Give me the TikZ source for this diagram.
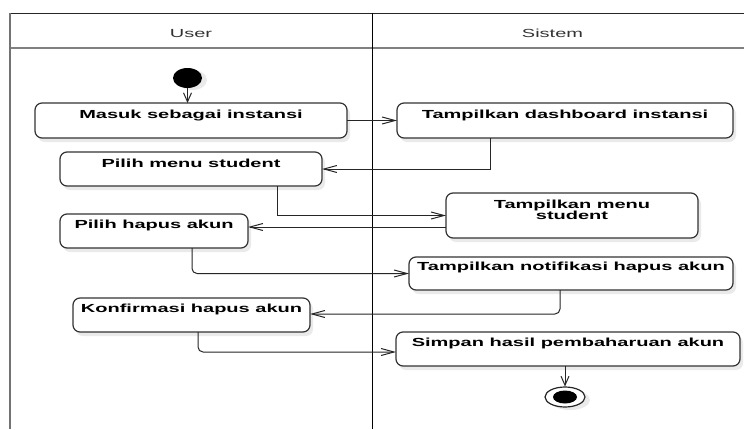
\documentclass[tikz,border=0pt]{standalone}
\usepackage{fontspec}
\setmainfont{Liberation Sans}[FakeStretch=1.71]
\usetikzlibrary{arrows.meta,shapes.geometric,shadows}

\tikzset{
  lane/.style={font=\fontsize{11.7}{12}\selectfont, text=black!80, inner sep=0pt, anchor=base},
  act/.style={draw=black!80, line width=1.2pt, rounded corners=7pt, fill=white,
    inner sep=0pt, outer sep=0pt, anchor=north west, text height=15pt,
    font=\fontsize{11.7}{12}\selectfont\bfseries,
    drop shadow={shadow xshift=3pt, shadow yshift=-4pt, fill=black!16, opacity=0.5}},
  flow/.style={draw=black!85, line width=1pt},
  harr/.style={flow, -{Straight Barb[length=13pt,width=7pt]}},
  varr/.style={flow, -{Straight Barb[length=9pt,width=8pt]}},
}

\begin{document}
\begin{tikzpicture}[x=1pt, y=-1pt]
\useasboundingbox (0,0) rectangle (744,429);
\fill[white] (0,0) rectangle (744,429);

% swimlane frame
\draw[black!85, line width=1pt] (10,13) -- (744,13);
\draw[black!50, line width=1.3pt] (10,48) -- (744,48);
\draw[black!55, line width=1.8pt] (10,13) -- (10,429);
\draw[black, line width=1pt] (372,13) -- (372,429);
\node[lane] (laneuser) at (191,37) {User};
\node[lane] (lanesys) at (552.5,37) {Sistem};

% initial and final states
\node[ellipse, fill=black, minimum width=29pt, minimum height=20pt, inner sep=0pt,
  drop shadow={shadow xshift=5pt, shadow yshift=-2pt, fill=black!16, opacity=0.5}]
  (start) at (187.5,78) {};
\node[ellipse, draw=black!85, line width=1.2pt, fill=white, minimum width=40pt,
  minimum height=20pt, inner sep=0pt,
  drop shadow={shadow xshift=5pt, shadow yshift=-3pt, fill=black!16, opacity=0.5}]
  (finish) at (565,397) {};
\node[ellipse, fill=black, minimum width=24pt, minimum height=13pt, inner sep=0pt]
  (finishdot) at (565,397) {};

% activities
\node[act, minimum width=312pt, minimum height=35pt, text depth=20pt] (masuk) at (35,103) {Masuk sebagai instansi};
\node[act, minimum width=336pt, minimum height=35pt, text depth=20pt] (dash) at (397,103) {Tampilkan dashboard instansi};
\node[act, minimum width=262pt, minimum height=34pt, text depth=19pt] (pmenu) at (60,152) {Pilih menu student};
\node[act, minimum width=252pt, minimum height=45pt, text height=15.5pt, text depth=29.5pt] (tmenu) at (446,193)
  {\vtop{\baselineskip=11pt\lineskiplimit=-\maxdimen\halign{\hfil#\hfil\cr Tampilkan menu\cr student\cr}}};
\node[act, minimum width=188pt, minimum height=34pt, text height=14pt, text depth=20pt] (phapus) at (60,214) {Pilih hapus akun};
\node[act, minimum width=324pt, minimum height=33pt, text height=13.5pt, text depth=19.5pt] (notif) at (409,257) {Tampilkan notifikasi hapus akun};
\node[act, minimum width=237pt, minimum height=34pt, text height=14pt, text depth=20pt] (konf) at (73,298) {Konfirmasi hapus akun};
\node[act, minimum width=344pt, minimum height=34pt, text height=14.5pt, text depth=19.5pt] (simpan) at (396,332) {Simpan hasil pembaharuan akun};

% control flow
\draw[varr] (start.south) -- (start.south |- masuk.north);
\draw[harr] (masuk.east) -- (dash.west);
\draw[harr] (490,0 |- dash.south) |- (pmenu.east);
\draw[harr] (277,0 |- pmenu.south) |- (tmenu.west);
\draw[harr] (tmenu.west |- 0,227) -- (phapus.east |- 0,227);
\draw[harr, rounded corners=5pt] (192,0 |- phapus.south) |- (notif.west);
\draw[harr, rounded corners=5pt] (560,0 |- notif.south) |- (konf.east |- 0,314);
\draw[harr, rounded corners=5pt] (198,0 |- konf.south) |- (simpan.west |- 0,352);
\draw[varr] (finish.north |- simpan.south) -- (finish.north);
\end{tikzpicture}
\end{document}
